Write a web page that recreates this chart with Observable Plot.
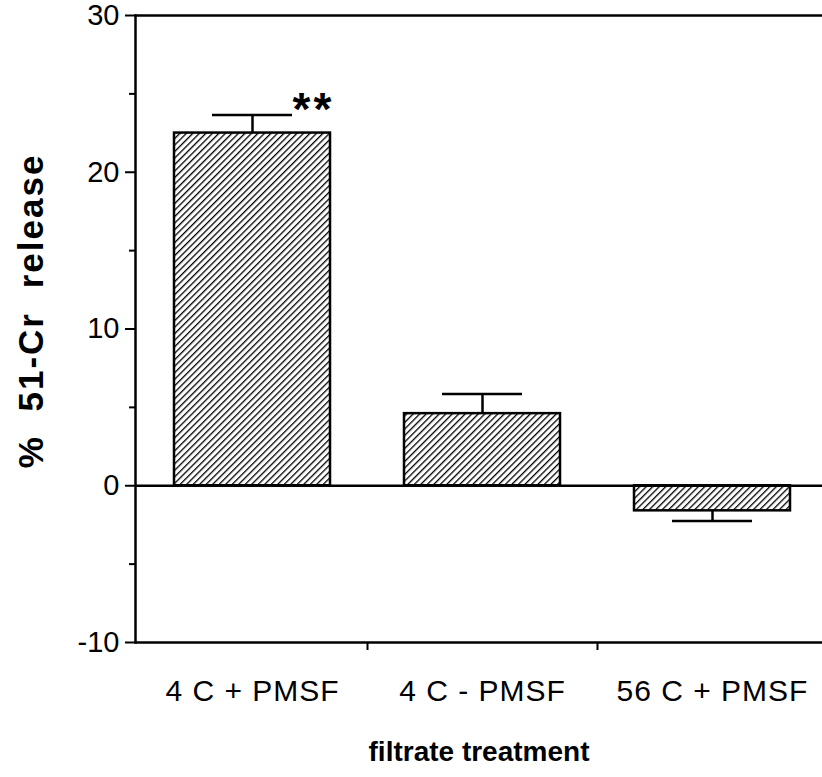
<!DOCTYPE html>
<html><head><meta charset="utf-8">
<script src="https://cdn.jsdelivr.net/npm/d3@7"></script>
<script src="https://cdn.jsdelivr.net/npm/@observablehq/plot@0.6"></script>
<style>
body{margin:0;background:#fff;}
#chart svg{display:block;}
.ytitle text{letter-spacing:2px;word-spacing:12px;}
.xlabels text{letter-spacing:1px;}
.stars text{letter-spacing:3px;}
</style></head><body><div id="chart"></div>
<script>
const categories = ["4 C + PMSF", "4 C - PMSF", "56 C + PMSF"];
const values = [22.5, 4.6, -1.6];
const errors = [1.15, 1.25, 0.65];
const marksText = ["**", "", ""];
const yMajor = [-10, 0, 10, 20, 30];
const yMinor = [-5, 5, 15, 25];
const xTitle = "filtrate treatment";
const yTitle = "% 51-Cr release";

const data = categories.map((c, i) => ({
  c, v: values[i],
  e: values[i] >= 0 ? values[i] + errors[i] : values[i] - errors[i],
  m: marksText[i]
}));

const W = 822, H = 777;
const xOpts = {type: "band", domain: categories, range: [137.5, 827.5], paddingInner: 0.32, paddingOuter: 0.16};
const xs = Plot.scale({x: xOpts});
const step = xs.step || (xOpts.range[1] - xOpts.range[0]) / categories.length;
const font = "'Liberation Sans', Arial, Helvetica, sans-serif";

const plot = Plot.plot({
  width: W, height: H,
  marginLeft: 135, marginRight: 0, marginTop: 15, marginBottom: 135,
  style: {fontFamily: font, fontSize: "28px", color: "black", background: "white"},
  x: {...xOpts},
  y: {domain: [-10, 30]},
  marks: [
    Plot.barY(data, {x: "c", y: "v", fill: "url(#hatch)", stroke: "black", strokeWidth: 2.5}),
    Plot.ruleX(data, {x: "c", y1: "v", y2: "e", stroke: "black", strokeWidth: 2.5}),
    Plot.tickY(data, {x: "c", y: "e", stroke: "black", strokeWidth: 2.5, insetLeft: 38, insetRight: 38}),
    Plot.text(data, {x: "c", y: "e", text: "m", dx: 40, dy: -5, textAnchor: "start", fontSize: 46, fontWeight: "bold", className: "stars"}),
    Plot.ruleY([-10, 0, 30], {stroke: "black", strokeWidth: 2.5}),
    Plot.frame({anchor: "left", stroke: "black", strokeWidth: 2.5}),
    Plot.axisY({ticks: yMajor, tickSize: 10, tickPadding: 6, fontSize: 29, tickFormat: d => String(d), label: null, strokeWidth: 2}),
    Plot.axisY({ticks: yMinor, tickSize: 6, text: null, label: null, strokeWidth: 2}),
    Plot.axisX({tickSize: 0, tickPadding: 37, fontSize: 30, label: null, className: "xlabels"}),
    Plot.axisX({ticks: categories.slice(0, -1), tickSize: 8, text: null, dx: step / 2, label: null, strokeWidth: 2}),
    Plot.text([xTitle], {frameAnchor: "bottom", dy: 118, fontWeight: "bold", fontSize: 28}),
    Plot.text([yTitle], {frameAnchor: "left", textAnchor: "middle", rotate: -90, dx: -104, dy: -18, fontWeight: "bold", fontSize: 35, className: "ytitle"})
  ]
});

d3.select(plot).insert("defs", ":first-child").html(
  `<pattern id="hatch" patternUnits="userSpaceOnUse" width="4.6" height="4.6" patternTransform="rotate(45)">
     <rect width="4.6" height="4.6" fill="white"/>
     <line x1="0" y1="0" x2="0" y2="4.6" stroke="black" stroke-width="2.6"/>
   </pattern>`
);
document.getElementById("chart").appendChild(plot);
</script></body></html>
